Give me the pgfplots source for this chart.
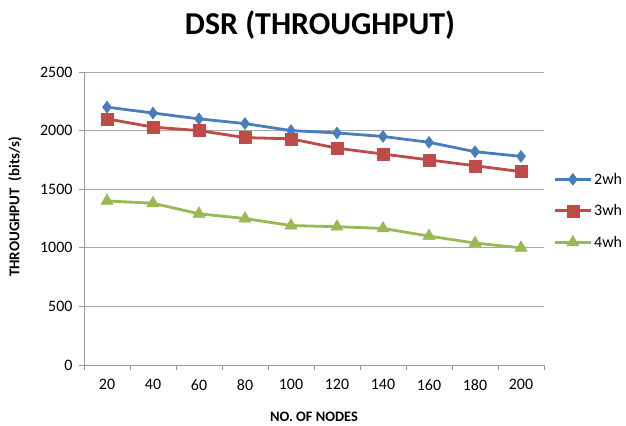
\documentclass[border=0pt]{standalone}
\usepackage{pgfplots}
\pgfplotsset{compat=1.18}
\usepackage{fontspec}
\setmainfont{Carlito}
\definecolor{cblue}{HTML}{4A7EBB}
\definecolor{cred}{HTML}{BE4B48}
\definecolor{cgreen}{HTML}{98B954}
\begin{document}
\begin{tikzpicture}[x=1bp,y=1bp]
\path[use as bounding box] (0,0) rectangle (626,425);
\node[font=\bfseries\fontsize{32}{34}\selectfont] at (320,400) {DSR (THROUGHPUT)};
\node[font=\bfseries\fontsize{14.5}{16}\selectfont] at (314,8) {NO. OF NODES};
\node[font=\bfseries\fontsize{15}{16}\selectfont, rotate=90] at (15,218) {THROUGHPUT\ \ (bits/s)};
\begin{axis}[
  at={(84bp,60bp)}, anchor=south west,
  scale only axis, width=460bp, height=293bp,
  xmin=-0.5, xmax=9.5, ymin=0, ymax=2500,
  axis x line=bottom, axis y line=left,
  axis line style={-, draw=gray!80, line width=0.8pt},
  xtick={0,...,9},
  xticklabels={20,40,60,80,100,120,140,160,180,200},
  minor xtick={-0.5,0.5,...,9.5},
  x tick style={draw=none},
  minor x tick style={draw=gray!80, line width=0.8pt},
  minor tick length=5bp,
  ytick={0,500,...,2500},
  y tick style={draw=gray!80, line width=0.8pt},
  major tick length=5bp,
  tick align=outside,
  ymajorgrids, grid style={gray!70, line width=0.8pt},
  tick label style={font=\fontsize{16}{18}\selectfont},
  /pgf/number format/assume math mode=true,
  /pgf/number format/1000 sep={},
  xticklabel style={yshift=-6bp},
  yticklabel style={xshift=-3bp},
  legend style={at={(1.02,0.526)}, anchor=west, draw=none, fill=none,
    font=\fontsize{16}{18}\selectfont, row sep=15bp, inner sep=0pt},
  legend cell align=left,
  legend image code/.code={\draw[#1] (0bp,0bp) -- (36bp,0bp); \draw[#1, mark repeat=2, mark phase=2] plot coordinates {(0bp,0bp) (18bp,0bp) (36bp,0bp)};},
  every axis plot/.append style={line width=2.8bp},
]
\addplot[cblue, mark=diamond*, mark size=6bp, mark options={solid, line width=0.5pt, fill=cblue}] coordinates {
(0,2200) (1,2150) (2,2100) (3,2060) (4,2000) (5,1980) (6,1950) (7,1900) (8,1820) (9,1780)};
\addlegendentry{2wh}
\addplot[cred, mark=square*, mark size=6bp, mark options={solid, line width=0.5pt, fill=cred}] coordinates {
(0,2100) (1,2030) (2,2000) (3,1940) (4,1930) (5,1850) (6,1800) (7,1750) (8,1700) (9,1650)};
\addlegendentry{3wh}
\addplot[cgreen, mark=triangle*, mark size=7bp, mark options={solid, line width=0.5pt, fill=cgreen}] coordinates {
(0,1400) (1,1380) (2,1290) (3,1250) (4,1190) (5,1180) (6,1165) (7,1100) (8,1040) (9,1000)};
\addlegendentry{4wh}
\end{axis}
\end{tikzpicture}
\end{document}
